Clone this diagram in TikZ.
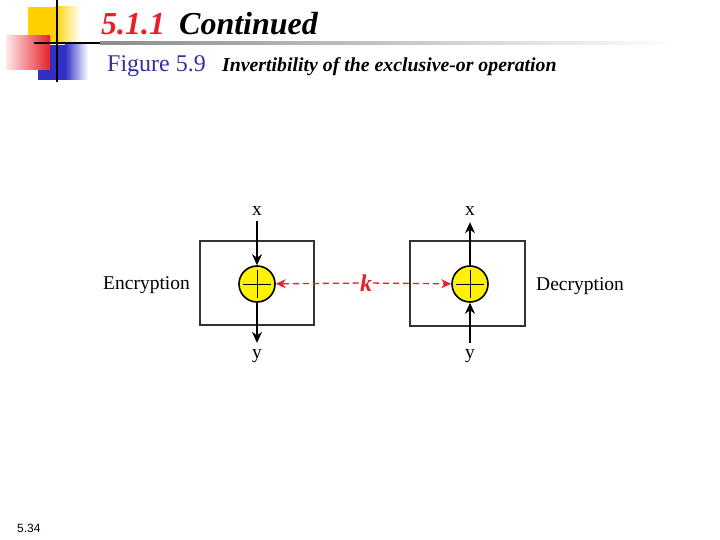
\documentclass[tikz,border=0pt]{standalone}
\usepackage{fontspec}
\setmainfont{Liberation Serif}
\newfontfamily\piedfont{Liberation Sans}
\usepackage{tikz}
\usetikzlibrary{arrows.meta,positioning}
\definecolor{xorjaune}{HTML}{FFF200}
\definecolor{xorrouge}{HTML}{E8202A}
\definecolor{decojaune}{HTML}{FFD000}
\definecolor{decobleu}{HTML}{3030C8}
\definecolor{figbleu}{HTML}{333399}

\begin{document}
\begin{tikzpicture}[x=1pt, y=-1pt,
  every node/.style={font=\fontsize{19.5}{21}\selectfont, inner sep=1pt},
  xorc/.style={circle, draw, line width=1.6pt, fill=xorjaune, minimum size=36pt,
    path picture={
      \draw[line width=0.8pt] ([xshift=-14pt]path picture bounding box.center) -- ([xshift=14pt]path picture bounding box.center);
      \draw[line width=0.8pt] ([yshift=-14pt]path picture bounding box.center) -- ([yshift=14pt]path picture bounding box.center);
    }},
  arr/.style={-{Stealth[length=11pt,width=10pt]}, line width=1.4pt},
  karr/.style={-{Stealth[length=10pt,width=9pt]}, xorrouge, line width=1.3pt, dash pattern=on 6pt off 4pt}]
  \useasboundingbox (0,0) rectangle (720,540);
  % decoration du titre
  \fill[decojaune] (28,7) rectangle (55,43);
  \shade[left color=decojaune, right color=white] (55,7) rectangle (80,43);
  \fill[decobleu] (38,45) rectangle (65,80);
  \shade[left color=decobleu, right color=white] (65,45) rectangle (88,80);
  \shade[left color=xorrouge!10, right color=xorrouge] (6,36) rectangle (50,70);
  \draw[line width=2pt] (57,0) -- (57,82);
  \draw[line width=2.5pt] (34,43) -- (100,43);
  \shade[left color=black!45, right color=white] (100,41.75) rectangle (680,44.25);
  % titres
  \node[anchor=base west, font=\fontsize{32}{34}\selectfont\bfseries\itshape] (titre) at (100,35)
    {\textcolor{xorrouge}{5.1.1}\hspace{14pt}Continued};
  \node[anchor=base west, font=\fontsize{24}{26}\selectfont, text=figbleu] (fig) at (106,72) {Figure 5.9};
  \node[anchor=base west, font=\fontsize{19.8}{22}\selectfont\bfseries\itshape] (legende) at (221,72)
    {Invertibility of the exclusive-or operation};
  % boites
  \draw[line width=1.1pt, black!80] (200,241) rectangle (314,325);
  \draw[line width=1.1pt, black!80] (410,241) rectangle (525,326);
  % chiffrement
  \node[xorc] (encx) at (257,284) {};
  \node[anchor=base] (encin) at (257,215) {x};
  \node[anchor=base] (encout) at (257,358) {y};
  \draw[arr, shorten <=5pt] (encin) -- (encx);
  \draw[arr, shorten >=5pt] (encx) -- (encout);
  \node[anchor=base west] (enclab) at (102,289) {Encryption};
  % dechiffrement
  \node[xorc] (decx) at (470,284) {};
  \node[anchor=base] (decout) at (470,215) {x};
  \node[anchor=base] (decin) at (470,358) {y};
  \draw[arr, shorten <=5pt] (decin) -- (decx);
  \draw[arr, shorten >=6pt] (decx) -- (decout);
  \node[anchor=base west] (declab) at (535,290) {Decryption};
  % cle
  \node[text=xorrouge, font=\fontsize{24}{26}\selectfont\bfseries\itshape] (cle) at (366,283) {k};
  \draw[karr] (cle) -- (encx);
  \draw[karr] (cle) -- (decx);
  % pied
  \node[anchor=base west, font=\fontsize{12}{14}\selectfont\piedfont] (page) at (16,532) {5.34};
\end{tikzpicture}
\end{document}
